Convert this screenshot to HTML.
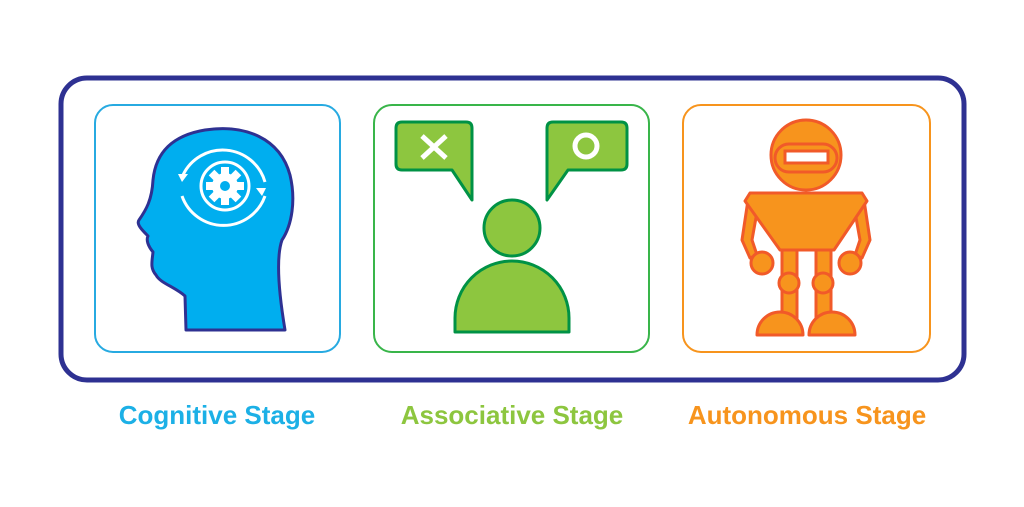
<!DOCTYPE html>
<html><head><style>
body{margin:0;background:#fff;width:1024px;height:502px;overflow:hidden;font-family:"Liberation Sans",sans-serif}
</style></head><body>
<svg width="1024" height="502" viewBox="0 0 1024 502">
<rect x="61" y="78" width="903" height="302" rx="26" fill="#fff" stroke="#2e3192" stroke-width="5"/>
<rect x="95" y="105" width="245" height="247" rx="18" fill="#fff" stroke="#27aae1" stroke-width="2"/>
<rect x="374" y="105" width="275" height="247" rx="18" fill="#fff" stroke="#39b54a" stroke-width="2"/>
<rect x="683" y="105" width="247" height="247" rx="18" fill="#fff" stroke="#f7941d" stroke-width="2"/>
<!-- head -->
<path d="M186,330 L185,296 C175,287 160,283 156,275 C150,268 152,262 153,252 C148,246 146,240 148,236 C142,230 136,224 139,220 C146,210 152,200 153,180 C156,150 175,135 205,130 C245,124 280,138 290,175 C296,200 292,225 282,240 C275,260 280,300 285,330 Z" fill="#00aeef" stroke="#2e3192" stroke-width="3" stroke-linejoin="round"/>
<g fill="none" stroke="#fff" stroke-width="3">
<circle cx="225" cy="186" r="24"/>
<path d="M183,175 A44,44 0 0 1 265,182"/>
<path d="M182,196 A44,44 0 0 0 265,196"/>
</g>
<g fill="#fff"><path d="M178,174 l10,0 l-6,8z"/><path d="M262,196 l-6,-8 l10,0z"/></g>
<circle cx="225" cy="186" r="13" fill="#fff"/>
<g fill="#fff"><rect x="221" y="167" width="8" height="38"/><rect x="206" y="182" width="38" height="8"/>
<rect x="221" y="167" width="8" height="38" transform="rotate(45 225 186)"/><rect x="221" y="167" width="8" height="38" transform="rotate(-45 225 186)"/></g>
<circle cx="225" cy="186" r="5" fill="#00aeef"/>
<!-- green -->
<g fill="#8dc63f" stroke="#009245" stroke-width="3" stroke-linejoin="round">
<path d="M402,122 H466 Q472,122 472,128 V200 L452,170 H402 Q396,170 396,164 V128 Q396,122 402,122 Z"/>
<path d="M553,122 H621 Q627,122 627,128 V164 Q627,170 621,170 H568 L547,200 V128 Q547,122 553,122 Z"/>
<circle cx="512" cy="228" r="28"/>
<path d="M455,332 V318 A57,57 0 0 1 569,318 V332 Z"/>
</g>
<g stroke="#fff" stroke-width="5" fill="none"><path d="M422,136 L446,158 M446,136 L422,158"/><circle cx="586" cy="146" r="11"/></g>
<!-- robot -->
<g fill="#f7941d" stroke="#f15a29" stroke-width="3" stroke-linejoin="round">
<path d="M748,200 L742,240 L750,258 L757,255 L752,240 L757,212Z"/>
<path d="M864,200 L870,240 L862,258 L855,255 L860,240 L855,212Z"/>
<circle cx="762" cy="263" r="11"/><circle cx="850" cy="263" r="11"/>
<circle cx="806" cy="155" r="35"/>
<rect x="775" y="144" width="62" height="28" rx="14"/>
<rect x="782" y="248" width="15" height="85"/><rect x="816" y="248" width="15" height="85"/>
<circle cx="789" cy="283" r="10"/><circle cx="823" cy="283" r="10"/>
<path d="M757,335 A23,23 0 0 1 803,335 Z"/><path d="M809,335 A23,23 0 0 1 855,335 Z"/>
<path d="M750,193 H862 L867,201 L834,250 H780 L745,201 Z"/>
</g>
<rect x="785" y="151" width="43" height="12" fill="#fff" stroke="#f15a29" stroke-width="3"/>
<text x="217" y="424" text-anchor="middle" font-size="26" font-weight="bold" fill="#1cb0e6">Cognitive Stage</text>
<text x="512" y="424" text-anchor="middle" font-size="26" font-weight="bold" fill="#8dc63f">Associative Stage</text>
<text x="807" y="424" text-anchor="middle" font-size="26" font-weight="bold" fill="#f7941d">Autonomous Stage</text>
</svg>
</body></html>
